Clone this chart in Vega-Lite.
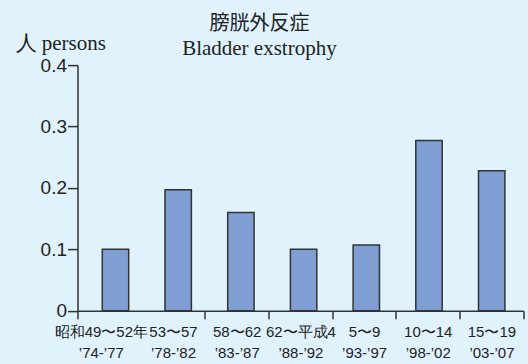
{
  "$schema": "https://vega.github.io/schema/vega-lite/v6.json",
  "autosize": {"type": "none"},
  "width": 445.8,
  "height": 245.6,
  "padding": {"left": 77.5, "top": 65.1, "right": 4.7, "bottom": 53.3},
  "background": "#e0f2fc",
  "config": {
    "view": {"stroke": null},
    "axis": {"grid": false}
  },
  "title": {
    "text": "膀胱外反症",
    "subtitle": "Bladder exstrophy",
    "anchor": "middle",
    "dx": -41,
    "dy": 31,
    "font": "Noto Sans CJK JP",
    "fontSize": 20,
    "fontWeight": "normal",
    "color": "#222222",
    "subtitleFont": "Liberation Serif",
    "subtitleFontSize": 21,
    "subtitleColor": "#222222",
    "subtitlePadding": 4,
    "offset": 4
  },
  "data": {
    "values": [
      {"period": "昭和49〜52年|’74-’77", "value": 0.1},
      {"period": "53〜57|’78-’82", "value": 0.197},
      {"period": "58〜62|’83-’87", "value": 0.16},
      {"period": "62〜平成4|’88-’92", "value": 0.1},
      {"period": "5〜9|’93-’97", "value": 0.107},
      {"period": "10〜14|’98-’02", "value": 0.277},
      {"period": "15〜19|’03-’07", "value": 0.228}
    ]
  },
  "layer": [
    {
      "mark": {"type": "bar", "fill": "#7f9fd4", "stroke": "#333333", "strokeWidth": 1.5},
      "encoding": {
        "x": {
          "field": "period", "type": "nominal", "sort": null,
          "scale": {"paddingInner": 0.579, "paddingOuter": 0.3445, "align": 0.574},
          "axis": null
        },
        "y": {
          "field": "value", "type": "quantitative",
          "scale": {"domain": [0, 0.4], "nice": false},
          "axis": {
            "values": [0, 0.1, 0.2, 0.3, 0.4],
            "labelExpr": "datum.value == 0 ? '0' : format(datum.value, '.1f')",
            "domainColor": "#333333",
            "domainWidth": 1.5,
            "tickColor": "#333333",
            "tickWidth": 1.5,
            "tickSize": 10,
            "labelPadding": 1,
            "labelFont": "Liberation Sans",
            "labelFontSize": 19,
            "labelColor": "#222222",
            "title": "人 persons",
            "titleAngle": 0,
            "titleAlign": "left",
            "titleBaseline": "alphabetic",
            "titleX": -62.5,
            "titleY": -16,
            "titleFont": "Liberation Serif",
            "titleFontSize": 21,
            "titleFontWeight": "normal",
            "titleColor": "#222222"
          }
        }
      }
    },
    {
      "mark": {"type": "point", "opacity": 0},
      "encoding": {
        "x": {
          "field": "period", "type": "nominal", "sort": null,
          "scale": {"paddingInner": 0, "paddingOuter": 0},
          "axis": {
            "orient": "bottom",
            "title": null,
            "labelAngle": 0,
            "labelExpr": "split(datum.label, '|')",
            "labelOffset": {"condition": {"test": "datum.value == '昭和49〜52年|’74-’77'", "value": -8.5}, "value": 0},
            "tickOpacity": {"condition": {"test": "datum.value == '昭和49〜52年|’74-’77'", "value": 0}, "value": 1},
            "tickBand": "extent",
            "tickSize": 8,
            "tickColor": "#333333",
            "tickWidth": 1.5,
            "domainColor": "#333333",
            "domainWidth": 1.5,
            "labelPadding": 6,
            "labelFont": "Liberation Sans",
            "labelFontSize": 15,
            "labelLineHeight": 21,
            "labelColor": "#222222"
          }
        }
      }
    }
  ],
  "resolve": {"scale": {"x": "independent"}}
}
